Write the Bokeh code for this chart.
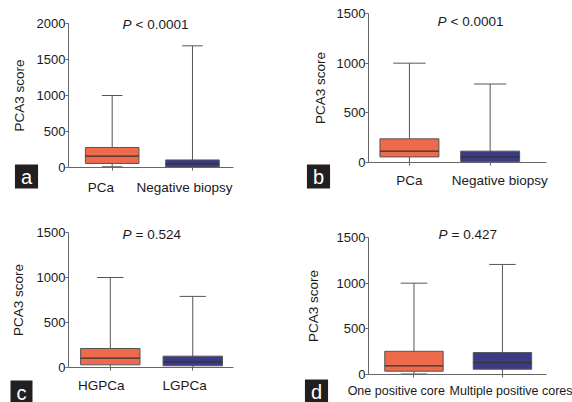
from bokeh.plotting import figure
from bokeh.models import Range1d, FixedTicker, Label
from bokeh.layouts import row, column
from bokeh.embed import file_html
from bokeh.resources import INLINE

FONT = "Liberation Sans"
ORANGE = "#EE6A4B"
NAVY = "#3B3A86"
COLORS = [ORANGE, NAVY]

# ---- data ----
a_cats = ["PCa", "Negative biopsy"]
a_low = [10, 0]
a_q1 = [56, 8]
a_med = [158, 50]
a_q3 = [278, 105]
a_high = [1000, 1690]
a_p = "< 0.0001"
a_yticks = [0, 500, 1000, 1500, 2000]

b_cats = ["PCa", "Negative biopsy"]
b_low = [0, 0]
b_q1 = [56, 10]
b_med = [114, 56]
b_q3 = [238, 114]
b_high = [1000, 790]
b_p = "< 0.0001"
b_yticks = [0, 500, 1000, 1500]

c_cats = ["HGPCa", "LGPCa"]
c_low = [0, 0]
c_q1 = [30, 19]
c_med = [104, 63]
c_q3 = [211, 126]
c_high = [1000, 790]
c_p = "= 0.524"
c_yticks = [0, 500, 1000, 1500]

d_cats = ["One positive core", "Multiple positive cores"]
d_low = [5, 0]
d_q1 = [36, 58]
d_med = [94, 131]
d_q3 = [254, 240]
d_high = [1000, 1205]
d_p = "= 0.427"
d_yticks = [0, 500, 1000, 1500]


def panel(cats, low, q1, med, q3, high, ptext, letter, yticks, s):
    p = figure(width=s["w"], height=s["h"], output_backend="svg", toolbar_location=None,
               x_range=Range1d(s["x0"], s["x1"]), y_range=Range1d(0, yticks[-1]),
               min_border_left=s["l"], min_border_right=s["r"],
               min_border_top=s["t"], min_border_bottom=s["b"])
    p.outline_line_color = None
    p.grid.visible = False
    p.background_fill_color = "white"
    xs = [i + 1 for i in range(len(cats))]
    bw = s["bw"]
    cw = s["cw"]
    p.segment(x0=xs, y0=low, x1=xs, y1=high, line_color="#555555", line_width=1)
    p.segment(x0=[x - cw / 2 for x in xs], y0=high, x1=[x + cw / 2 for x in xs], y1=high,
              line_color="#555555", line_width=1)
    p.segment(x0=[x - cw / 2 for x in xs], y0=low, x1=[x + cw / 2 for x in xs], y1=low,
              line_color="#555555", line_width=1)
    p.vbar(x=xs, width=bw, bottom=q1, top=q3, fill_color=COLORS, line_color="#555555", line_width=1)
    p.segment(x0=[x - bw / 2 for x in xs], y0=med, x1=[x + bw / 2 for x in xs], y1=med,
              line_color="#333333", line_width=1.2)
    for ax in (p.xaxis, p.yaxis):
        ax.axis_line_color = "#666666"
        ax.major_tick_line_color = "#666666"
        ax.major_tick_out = 3
        ax.major_tick_in = 0
        ax.minor_tick_line_color = None
        ax.major_label_text_font = FONT
        ax.major_label_text_color = "#1a1a1a"
    p.yaxis.ticker = FixedTicker(ticks=yticks)
    p.yaxis.major_label_text_font_size = "13px"
    p.yaxis.major_label_standoff = 0
    p.yaxis.axis_label = "PCA3 score"
    p.yaxis.axis_label_text_font = FONT
    p.yaxis.axis_label_text_font_size = "13.5px"
    p.yaxis.axis_label_text_font_style = "normal"
    p.yaxis.axis_label_text_color = "#1a1a1a"
    p.yaxis.axis_label_standoff = s["als"]
    lpos = [x + o for x, o in zip(xs, s["lo"])]
    p.xaxis.ticker = FixedTicker(ticks=lpos, minor_ticks=xs)
    p.xaxis.major_label_overrides = {x: c for x, c in zip(lpos, cats)}
    p.xaxis.major_tick_line_color = None
    p.xaxis.minor_tick_line_color = "#666666"
    p.xaxis.minor_tick_out = 3
    p.xaxis.minor_tick_in = 0
    p.xaxis.major_label_text_font_size = s["xf"]
    p.xaxis.major_label_standoff = s["xs"]
    # P value (italic P + rest)
    px, py = s["pofs"]
    sides = s["psides"]
    for txt, dx, style, side in (("P", 0, "italic", sides[0]), (ptext, 13, "normal", sides[1])):
        p.add_layout(Label(x=s["x0"], y=0, x_offset=px + dx, y_offset=py, text=txt,
                           text_font=FONT, text_font_style=style, text_font_size="13.5px",
                           text_color="#1a1a1a", text_align="left", text_baseline="middle"),
                     side)
    # panel letter
    lx, ly = s["lofs"]
    p.add_layout(Label(x=s["x0"], y=0, x_offset=lx, y_offset=ly, text=letter,
                       text_font=FONT, text_font_size="20px", text_color="white",
                       text_align="center", text_baseline="middle",
                       background_fill_color="#231f20", padding=(6, 1)), s["lside"])
    return p


sa = dict(w=286, h=200, l=61, r=40, t=23, b=33, x0=0.456, x1=2.511, bw=0.667, cw=0.256,
          als=7, xf="13.5px", xs=9, pofs=(54, 143), lofs=(-42, -9), lo=(-0.14, -0.1),
          psides=("right", "above"), lside="right")
sb = dict(w=286, h=200, l=80, r=6, t=13, b=38, x0=0.493, x1=2.698, bw=0.73, cw=0.4,
          als=6, xf="13.5px", xs=7, pofs=(69, 141), lofs=(-50, -14), lo=(0.0, 0.12),
          psides=("center", "center"), lside="left")
sc = dict(w=286, h=202, l=68, r=53, t=32, b=35, x0=0.493, x1=2.494, bw=0.72, cw=0.32,
          als=8, xf="13.5px", xs=7, pofs=(54, 133), lofs=(-47, -25), lo=(-0.11, -0.1),
          psides=("above", "above"), lside="right")
sd = dict(w=286, h=202, l=82, r=26, t=37, b=28, x0=0.486, x1=2.498, bw=0.66, cw=0.3,
          als=13, xf="12.5px", xs=6, pofs=(70, 140), lofs=(-52, -17), lo=(-0.2, 0.12),
          psides=("above", "above"), lside="right")

pa = panel(a_cats, a_low, a_q1, a_med, a_q3, a_high, a_p, "a", a_yticks, sa)
pb = panel(b_cats, b_low, b_q1, b_med, b_q3, b_high, b_p, "b", b_yticks, sb)
pc = panel(c_cats, c_low, c_q1, c_med, c_q3, c_high, c_p, "c", c_yticks, sc)
pd = panel(d_cats, d_low, d_q1, d_med, d_q3, d_high, d_p, "d", d_yticks, sd)

layout = row(column(pa, pc), column(pb, pd))
open("out.html", "w").write(file_html(layout, INLINE))
